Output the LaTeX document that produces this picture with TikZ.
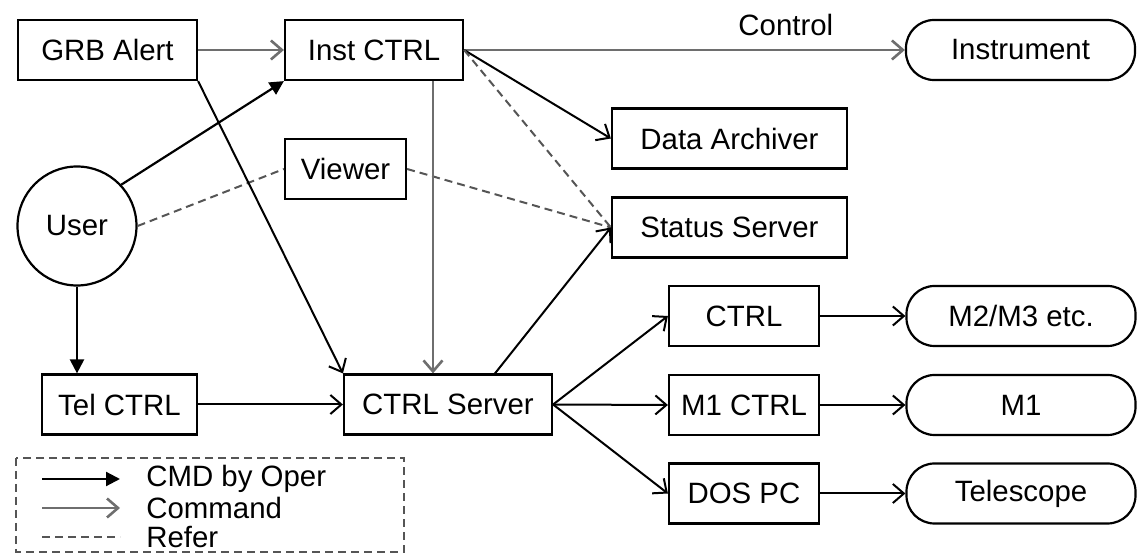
\documentclass[tikz,border=0pt]{standalone}
\usepackage{fontspec}
\setmainfont{Liberation Sans}
\usetikzlibrary{arrows.meta,positioning,calc}
\definecolor{cmdGray}{HTML}{6E6E6E}
\definecolor{refGray}{HTML}{555555}

\begin{document}
\begin{tikzpicture}[x=0.5pt,y=-0.5pt,font=\fontsize{14.7}{16}\selectfont,
  box/.style={draw,line width=1.1pt,minimum height=30pt,inner sep=2pt},
  pill/.style={box,rounded corners=14pt,minimum width=114.5pt},
  oper/.style={-{Triangle[length=7pt,width=7pt]},line width=1.1pt},
  cmd/.style={-{Straight Barb[length=5.5pt,width=9.5pt]},line width=1pt},
  cmdgray/.style={cmd,draw=cmdGray,line width=1.3pt},
  refer/.style={draw=refGray,line width=1pt,dash pattern=on 4pt off 2.5pt}]
  \useasboundingbox (0,0) rectangle (1137,555);
  \def\yTop{50}
  \def\yLow{404.5}
  % upper part: alert, instrument control and the servers it feeds
  \node[box,minimum width=89.5pt] (GRB) at (107.5,\yTop) {GRB Alert};
  \node[box,minimum width=89pt] (Inst) at (374,\yTop) {Inst CTRL};
  \node[pill] (Instr) at (1020.5,\yTop) {Instrument};
  \node[box,minimum width=60.5pt] (View) at (345.5,169) {Viewer};
  \node[box,minimum width=117.5pt] (Arch) at (729.5,138.5) {Data Archiver};
  \node[box,minimum width=117.5pt] (Stat) at (729.5,227.5) {Status Server};
  \node[draw,circle,line width=1.1pt,minimum size=59.5pt,inner sep=0pt] (User) at (77,226) {User};
  % lower part
  \node[box,minimum width=77.5pt] (Tel) at (119.5,\yLow) {Tel CTRL};
  \node[box,minimum width=104pt] (Srv) at (448,\yLow) {CTRL Server};
  \coordinate (drop) at ([xshift=-7.5pt]Srv.north);
  \coordinate (rise) at ([xshift=23.5pt]Srv.north);

  \draw[cmdgray] (GRB.east) -- (Inst.west);
  \draw[cmdgray] (Inst.east) -- (Instr.west) node[pos=0.73,above=3pt]{Control};
  \draw[cmd] (Inst.east) -- (Arch.west);
  \draw[refer] (Inst.east) -- (Stat.west);
  \draw[refer] (User.east) -- (View.west);
  \draw[refer] (View.east) -- (Stat.west);
  \draw[oper] (User.43) -- (Inst.south west);
  \draw[oper] (User.south) -- (User.south |- Tel.north);
  \draw[cmd] (GRB.south east) -- (Srv.north west);
  \draw[cmdgray] (drop |- Inst.south) -- (drop);
  \draw[cmd] (rise) -- (Stat.west);
  \draw[cmd] (Tel.east) -- (Srv.west);

  \foreach \n/\ctl/\dev/\y in {a/{CTRL}/{M2/M3 etc.}/316, b/{M1 CTRL}/{M1}/405, c/{DOS PC}/{Telescope}/493.5}{
    \node[box,minimum width=75pt] (ctl\n) at (744,\y) {\ctl};
    \node[pill] (dev\n) at (1021,\y) {\dev};
    \draw[cmd] (Srv.east) -- (ctl\n.west);
    \draw[cmd] (ctl\n.east) -- (dev\n.west);
  }

  % legend
  \draw[refer] (16,458) rectangle (404,552);
  \foreach \i/\s/\t/\y in {1/oper/{CMD by Oper}/479, 2/cmdgray/{Command}/508, 3/refer/{Refer}/537}{
    \node[anchor=west,inner sep=3pt] (key\i) at (140,\y) {\t};
    \draw[\s] ([xshift=-49pt]key\i.west) -- ([xshift=-10pt]key\i.west);
  }
\end{tikzpicture}
\end{document}
